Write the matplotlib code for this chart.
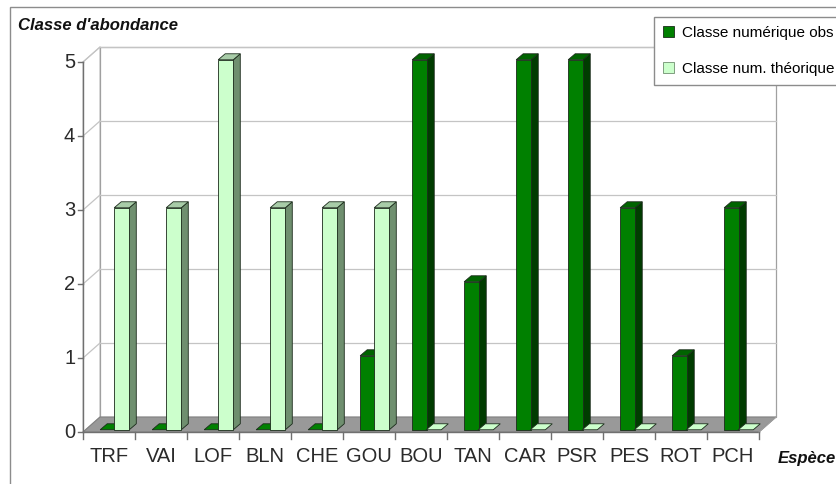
import matplotlib.pyplot as plt
from matplotlib.patches import Polygon, Rectangle, Patch

plt.rcParams['font.family'] = ['Liberation Sans', 'DejaVu Sans']

# data
especes = ['TRF', 'VAI', 'LOF', 'BLN', 'CHE', 'GOU', 'BOU',
           'TAN', 'CAR', 'PSR', 'PES', 'ROT', 'PCH']
classe_obs = [0, 0, 0, 0, 0, 1, 5, 2, 5, 5, 3, 1, 3]
classe_theo = [3, 3, 5, 3, 3, 3, 0, 0, 0, 0, 0, 0, 0]
y_ticks = [0, 1, 2, 3, 4, 5]

W, H = 836, 484
fig = plt.figure(figsize=(W / 100, H / 100), dpi=100)

# outer chart frame
fig.patches.append(Rectangle((10 / W, -0.1), 1.2, 1.1 - 7 / H, transform=fig.transFigure,
                             fill=False, edgecolor='#8c8c8c', lw=1))

n = len(especes)
ymax = y_ticks[-1]
ax = fig.add_axes([83 / W, 52 / H, 676 / W, 370 / H])
ax.set_xlim(0, n)
ax.set_ylim(0, ymax)
ax.axis('off')

# 3D depth of the walls (in data units)
dx, dy = 17 / 52, 15 / 74
grid_c = '#c4c4c4'

# floor
ax.add_patch(Polygon([(0, 0), (n, 0), (n + dx, dy), (dx, dy)], closed=True,
                     facecolor='#999999', edgecolor='#808080', lw=0.8, clip_on=False, zorder=1))
# left wall and back wall
ax.add_patch(Polygon([(0, 0), (dx, dy), (dx, ymax + dy), (0, ymax)], closed=True,
                     facecolor='white', edgecolor=grid_c, lw=0.8, clip_on=False, zorder=0))
ax.add_patch(Rectangle((dx, dy), n, ymax, facecolor='white', edgecolor='#a0a0a0',
                       lw=0.9, clip_on=False, zorder=0))

for v in y_ticks[1:]:
    ax.plot([dx, n + dx], [v + dy, v + dy], color=grid_c, lw=0.9, clip_on=False, zorder=0.5)
    ax.plot([0, dx], [v, v + dy], color=grid_c, lw=0.9, clip_on=False, zorder=0.5)

# value axis
ax.plot([0, 0], [0, ymax], color='#707070', lw=1, clip_on=False, zorder=2)
for v in y_ticks:
    ax.plot([-0.09, 0], [v, v], color='#707070', lw=1, clip_on=False, zorder=2)
    ax.text(-0.15, v, str(v), ha='right', va='center', fontsize=14.5, color='#2a2a2a')

# category axis
ax.plot([0, n], [0, 0], color='#707070', lw=1, clip_on=False, zorder=2)
ax.plot([n, n + dx], [0, dy], color='#a0a0a0', lw=0.8, clip_on=False, zorder=2)
for k in range(n + 1):
    ax.plot([k, k], [0, -0.1], color='#707070', lw=1, clip_on=False, zorder=2)
for i, lab in enumerate(especes):
    ax.text(i + 0.5, -0.33, lab, ha='center', va='center', fontsize=14.5, color='#2a2a2a')

# bars
bw = 0.29
bdx, bdy = 7 / 52, 6 / 74
base = 0.03
series = [
    (classe_obs, -0.17, '#008000', '#003c00', '#006400'),
    (classe_theo, 0.10, '#ccffcc', '#6f8f6f', '#a8cca8'),
]


def bar3d(x, val, front, side, top):
    b, t = base, base + val
    kw = dict(edgecolor='#1a2a1a', lw=0.6, clip_on=False, zorder=3)
    if val > 0:
        ax.add_patch(Polygon([(x + bw, b), (x + bw + bdx, b + bdy), (x + bw + bdx, t + bdy),
                              (x + bw, t)], closed=True, facecolor=side, **kw))
        ax.add_patch(Rectangle((x, b), bw, val, facecolor=front, **kw))
    ax.add_patch(Polygon([(x, t), (x + bw, t), (x + bw + bdx, t + bdy), (x + bdx, t + bdy)],
                         closed=True, facecolor=top if val > 0 else front, **kw))


for i in range(n):
    for vals, off, front, side, top in series:
        bar3d(i + 0.5 + off, vals[i], front, side, top)

# texts
fig.text(18 / W, 1 - 25 / H, "Classe d'abondance", fontsize=12, fontweight='bold',
         fontstyle='italic', ha='left', va='center', color='#111111')
fig.text(778 / W, 1 - 458 / H, 'Espèce', fontsize=12, fontweight='bold',
         fontstyle='italic', ha='left', va='center', color='#111111')

handles = [Patch(facecolor='#008000', edgecolor='#1a2a1a', lw=0.6),
           Patch(facecolor='#ccffcc', edgecolor='#6f8f6f', lw=0.6)]
leg = fig.legend(handles, ['Classe numérique obs', 'Classe num. théorique'],
                 loc='upper left', bbox_to_anchor=(654 / W, 1 - 17 / H), fontsize=11,
                 frameon=True, fancybox=False, shadow=False, handlelength=0.7,
                 handleheight=0.7, handletextpad=0.5, borderpad=0.6, labelspacing=1.4,
                 borderaxespad=0)
leg.get_frame().set_edgecolor('#8c8c8c')
leg.get_frame().set_linewidth(1)
leg.get_frame().set_alpha(1)
leg.set_zorder(10)

fig.savefig('out.png', dpi=100)
